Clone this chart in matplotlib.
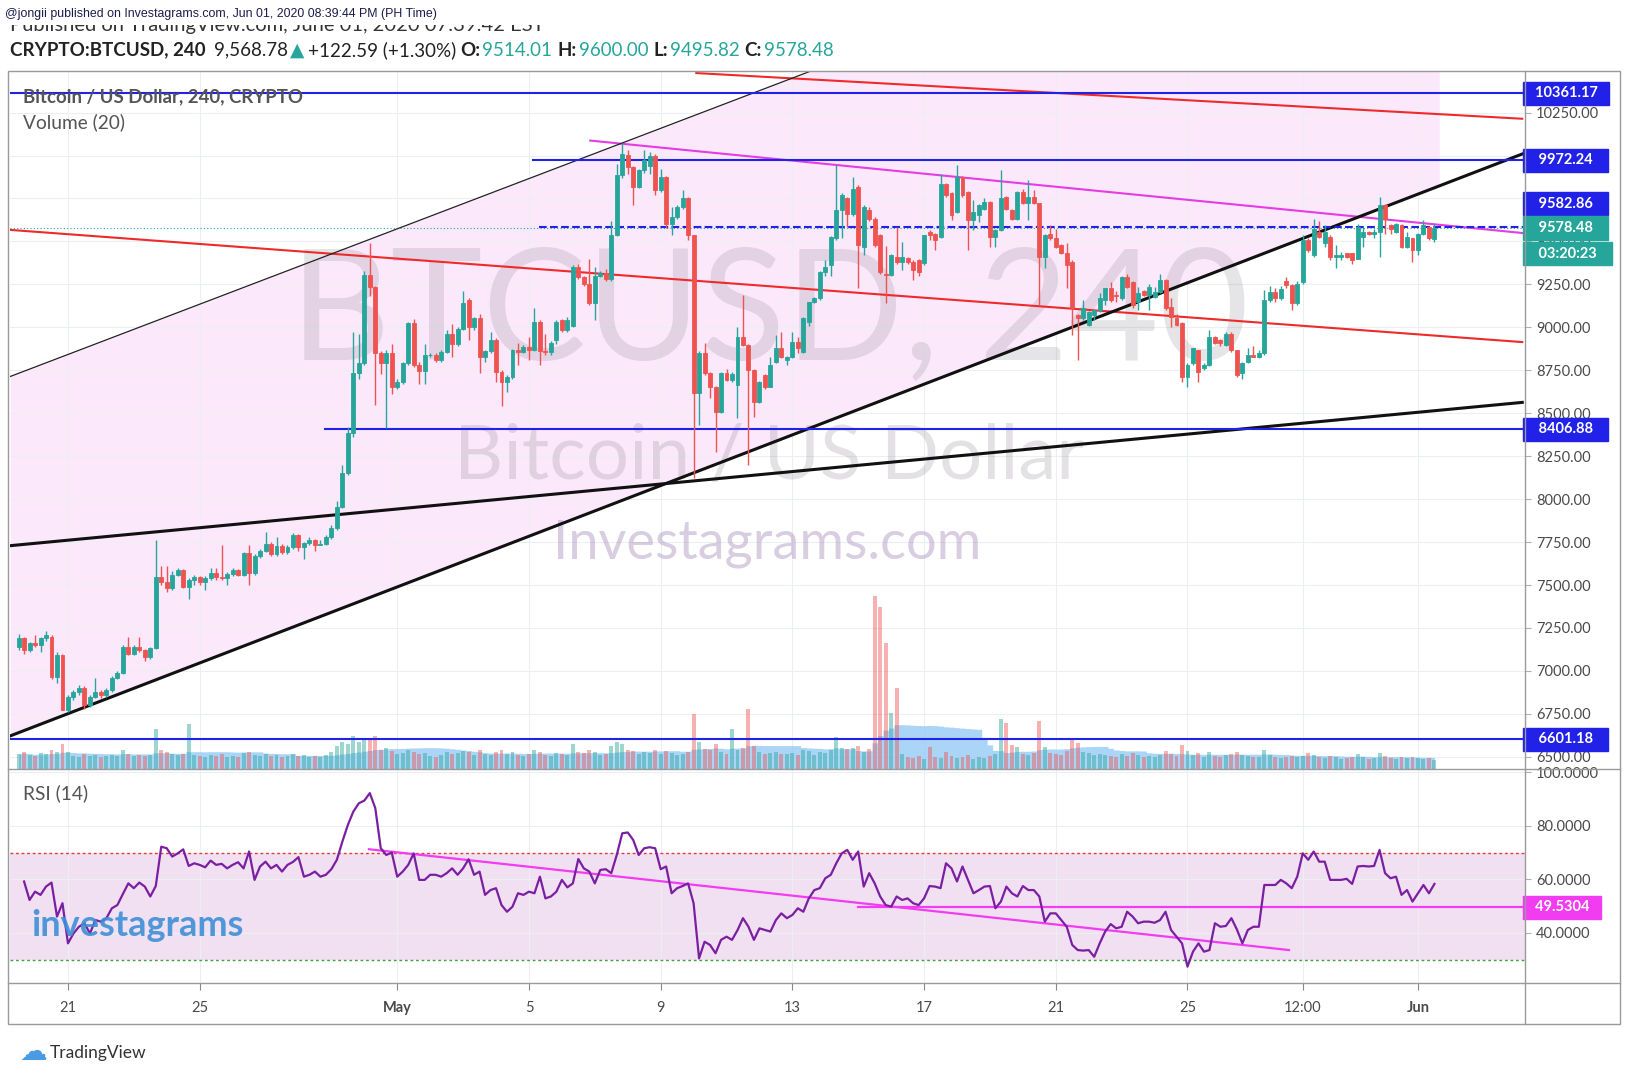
import matplotlib
matplotlib.use("Agg")
import matplotlib.pyplot as plt
import matplotlib.dates as mdates
from matplotlib.patches import Rectangle
from matplotlib.lines import Line2D
from matplotlib.ticker import FormatStrFormatter
import numpy as np
import pandas as pd

FONT = ["Lato", "DejaVu Sans"]
plt.rcParams["font.family"] = FONT

UP = "#26a69a"; DOWN = "#ef5350"; BLUE = "#2121e8"; RED = "#ee2a2a"
MAG = "#e33de3"; PINK = "#fce8fb"; GRID = "#eceef3"; TXT = "#4a4a4a"

# ---------- 4h candles, BTCUSD ----------
opens = [
    7140, 7190, 7120, 7160, 7150, 7190, 7200, 6965, 7090, 6775,
    6850, 6880, 6900, 6800, 6850, 6880, 6860, 6890, 6960, 6990,
    7140, 7100, 7140, 7120, 7080, 7135, 7548, 7520, 7480, 7560,
    7590, 7490, 7530, 7545, 7515, 7540, 7570, 7545, 7540, 7565,
    7590, 7560, 7685, 7570, 7670, 7700, 7740, 7680, 7725, 7690,
    7720, 7790, 7720, 7745, 7760, 7735, 7740, 7780, 7830, 7956,
    8150, 8383, 8732, 8790, 9304, 9236, 8848, 8790, 8850, 8654,
    8680, 8790, 9023, 8780, 8745, 8838, 8840, 8810, 8857, 8964,
    8900, 8993, 9158, 9000, 9052, 8828, 8860, 8925, 8741, 8680,
    8710, 8867, 8855, 8886, 8870, 9032, 8860, 8855, 8925, 9042,
    8984, 9010, 9352, 9294, 9255, 9139, 9300, 9314, 9284, 9536,
    9885, 10002, 9934, 9817, 9914, 9940, 10000, 9798, 9875, 9604,
    9643, 9701, 9750, 9536, 8615, 8848, 8732, 8654, 8508, 8732,
    8693, 8664, 8945, 8896, 8751, 8567, 8722, 8654, 8799, 8877,
    8809, 8828, 8916, 8857, 9032, 9148, 9168, 9323, 9362, 9517,
    9682, 9750, 9662, 9817, 9468, 9682, 9633, 9536, 9313, 9304,
    9410, 9381, 9401, 9381, 9391, 9372, 9556, 9546, 9527, 9837,
    9779, 9672, 9876, 9788, 9624, 9653, 9691, 9730, 9527, 9565,
    9759, 9682, 9633, 9788, 9721, 9759, 9721, 9410, 9546, 9517,
    9478, 9430, 9381, 9071, 9052, 9013, 9070, 9100, 9158, 9226,
    9187, 9170, 9294, 9265, 9148, 9210, 9190, 9177, 9206, 9274,
    9119, 9052, 9023, 8712, 8790, 8867, 8761, 8780, 8945, 8925,
    8896, 8964, 8867, 8732, 8799, 8838, 8828, 8848, 9158, 9206,
    9170, 9270, 9245, 9140, 9265, 9507, 9420, 9556, 9488, 9526,
    9410, 9410, 9430, 9430, 9400, 9526, 9556, 9546, 9556, 9711,
    9594, 9556, 9594, 9468, 9517, 9449, 9546, 9585, 9514.01]
highs = [
    7215, 7195, 7170, 7210, 7195, 7230, 7210, 7110, 7100, 6860,
    6890, 6920, 6910, 6860, 6960, 6890, 6900, 6970, 7000, 7150,
    7200, 7150, 7200, 7125, 7140, 7762, 7610, 7610, 7580, 7600,
    7595, 7540, 7560, 7550, 7550, 7600, 7600, 7733, 7575, 7600,
    7595, 7695, 7730, 7680, 7710, 7810, 7750, 7780, 7740, 7730,
    7800, 7795, 7750, 7780, 7770, 7760, 7790, 7850, 7990, 8200,
    8420, 8972, 8960, 9330, 9490, 9240, 8860, 8870, 8905, 8700,
    8800, 9030, 9050, 8800, 8905, 8850, 8850, 8870, 8985, 9020,
    9000, 9210, 9170, 9060, 9080, 8870, 8970, 8940, 8750, 8720,
    8875, 8910, 8895, 8945, 9110, 9040, 8960, 8920, 9040, 9050,
    9060, 9360, 9370, 9300, 9400, 9350, 9330, 9340, 9620, 9950,
    10070, 10030, 9940, 9920, 10030, 10020, 10010, 9920, 9880, 9700,
    9710, 9800, 9760, 9540, 8860, 8906, 8740, 8660, 8740, 8760,
    8740, 9003, 9187, 8900, 8760, 8690, 8730, 8828, 8953, 8973,
    8835, 8975, 8945, 9060, 9150, 9175, 9330, 9391, 9530, 9943,
    9780, 9760, 9876, 9830, 9710, 9700, 9640, 9545, 9474, 9425,
    9585, 9498, 9410, 9390, 9395, 9540, 9565, 9550, 9895, 9840,
    9785, 9943, 9880, 9795, 9740, 9720, 9750, 9735, 9570, 9914,
    9765, 9690, 9795, 9808, 9856, 9798, 9725, 9545, 9594, 9575,
    9485, 9488, 9390, 9080, 9158, 9095, 9100, 9197, 9226, 9265,
    9210, 9300, 9310, 9270, 9236, 9215, 9255, 9236, 9310, 9280,
    9170, 9080, 9030, 8790, 8880, 8870, 8790, 8984, 8950, 8930,
    8970, 8970, 8870, 8800, 8880, 8890, 8870, 9216, 9240, 9230,
    9240, 9290, 9250, 9270, 9536, 9520, 9633, 9620, 9594, 9540,
    9478, 9440, 9435, 9435, 9604, 9585, 9560, 9575, 9759, 9715,
    9600, 9610, 9600, 9556, 9520, 9550, 9623, 9590, 9600.00]
lows = [
    7120, 7100, 7110, 7140, 7110, 7175, 6950, 6930, 6770, 6760,
    6830, 6860, 6780, 6790, 6840, 6840, 6850, 6880, 6950, 6980,
    7090, 7090, 7110, 7060, 7070, 7130, 7500, 7460, 7470, 7550,
    7480, 7420, 7500, 7500, 7470, 7530, 7530, 7530, 7500, 7555,
    7550, 7550, 7500, 7560, 7660, 7690, 7670, 7670, 7680, 7680,
    7710, 7700, 7650, 7730, 7700, 7730, 7730, 7770, 7820, 7950,
    8140, 8360, 8700, 8780, 9180, 8548, 8730, 8412, 8610, 8640,
    8670, 8780, 8770, 8670, 8670, 8825, 8800, 8800, 8850, 8830,
    8890, 8985, 8925, 8985, 8732, 8800, 8850, 8680, 8540, 8625,
    8700, 8780, 8850, 8810, 8860, 8780, 8840, 8840, 8900, 8970,
    8970, 9000, 9280, 9240, 9130, 9040, 9290, 9270, 9270, 9530,
    9870, 9890, 9710, 9810, 9900, 9895, 9770, 9790, 9580, 9540,
    9630, 9690, 9510, 8121, 8430, 8720, 8590, 8276, 8500, 8690,
    8680, 8470, 8890, 8198, 8480, 8560, 8640, 8650, 8790, 8820,
    8780, 8820, 8850, 8850, 9010, 9140, 9160, 9300, 9300, 9510,
    9517, 9585, 9650, 9226, 9420, 9620, 9470, 9310, 9139, 9300,
    9370, 9333, 9370, 9275, 9300, 9365, 9507, 9449, 9520, 9760,
    9624, 9665, 9760, 9449, 9565, 9614, 9685, 9468, 9468, 9560,
    9685, 9625, 9625, 9715, 9624, 9715, 9129, 9343, 9510, 9460,
    9425, 9226, 8955, 8809, 9045, 9005, 9040, 9090, 9130, 9150,
    9148, 9160, 9230, 9110, 9100, 9185, 9100, 9170, 9200, 9100,
    9000, 9010, 8683, 8654, 8780, 8683, 8750, 8775, 8900, 8890,
    8890, 8858, 8712, 8700, 8795, 8825, 8820, 8840, 9150, 9150,
    9160, 9230, 9100, 9130, 9250, 9440, 9410, 9520, 9468, 9390,
    9343, 9391, 9405, 9370, 9395, 9468, 9540, 9517, 9410, 9546,
    9546, 9550, 9460, 9460, 9381, 9420, 9540, 9510, 9495.82]
closes = [
    7190, 7120, 7160, 7150, 7190, 7210, 6965, 7090, 6775, 6850,
    6880, 6900, 6800, 6850, 6880, 6860, 6890, 6960, 6990, 7140,
    7100, 7140, 7120, 7080, 7135, 7548, 7520, 7480, 7560, 7590,
    7490, 7530, 7545, 7515, 7540, 7570, 7545, 7540, 7565, 7590,
    7560, 7685, 7570, 7670, 7700, 7740, 7680, 7725, 7690, 7720,
    7790, 7720, 7745, 7760, 7735, 7740, 7780, 7830, 7956, 8150,
    8383, 8732, 8790, 9304, 9236, 8848, 8790, 8850, 8654, 8680,
    8790, 9023, 8780, 8745, 8838, 8840, 8810, 8857, 8964, 8900,
    8993, 9139, 9000, 9052, 8828, 8860, 8925, 8741, 8680, 8710,
    8867, 8855, 8886, 8870, 9032, 8860, 8855, 8910, 9032, 8984,
    9042, 9352, 9294, 9255, 9139, 9300, 9314, 9284, 9536, 9885,
    10011, 9934, 9817, 9914, 9973, 10000, 9798, 9875, 9604, 9643,
    9701, 9750, 9536, 8615, 8848, 8732, 8654, 8508, 8732, 8693,
    8730, 8945, 8896, 8751, 8567, 8683, 8654, 8780, 8877, 8828,
    8828, 8916, 8877, 9052, 9148, 9168, 9323, 9352, 9526, 9682,
    9769, 9662, 9808, 9478, 9701, 9633, 9478, 9323, 9304, 9420,
    9381, 9410, 9381, 9333, 9323, 9536, 9536, 9507, 9837, 9769,
    9653, 9876, 9769, 9624, 9672, 9711, 9730, 9527, 9565, 9750,
    9691, 9633, 9788, 9721, 9759, 9721, 9410, 9536, 9517, 9468,
    9430, 9362, 9110, 9052, 9110, 9090, 9100, 9168, 9226, 9158,
    9180, 9294, 9236, 9129, 9197, 9190, 9236, 9206, 9274, 9110,
    9061, 9013, 8712, 8780, 8877, 8741, 8780, 8945, 8906, 8906,
    8964, 8867, 8722, 8790, 8838, 8828, 8848, 9158, 9206, 9170,
    9225, 9245, 9140, 9250, 9507, 9449, 9575, 9526, 9556, 9410,
    9420, 9420, 9410, 9391, 9585, 9556, 9546, 9556, 9711, 9633,
    9575, 9604, 9468, 9526, 9449, 9546, 9594, 9517, 9578.48]
volumes = [
    15, 17, 14, 13, 16, 15, 19, 17, 25, 17,
    13, 12, 15, 13, 14, 12, 13, 14, 13, 19,
    15, 13, 14, 13, 14, 40, 19, 17, 15, 14,
    15, 45, 14, 13, 12, 14, 13, 15, 12, 13,
    12, 16, 17, 14, 13, 15, 13, 14, 12, 13,
    15, 13, 14, 12, 13, 12, 14, 17, 23, 27,
    25, 33, 27, 30, 29, 33, 19, 21, 18, 15,
    16, 19, 17, 15, 16, 13, 12, 14, 17, 15,
    16, 18, 17, 14, 19, 15, 14, 17, 19, 15,
    17, 14, 13, 15, 19, 17, 14, 13, 16, 15,
    14, 25, 17, 16, 19, 17, 14, 15, 23, 27,
    25, 19, 18, 15, 17, 16, 19, 15, 18, 16,
    14, 15, 17, 55, 27, 20, 19, 25, 17, 15,
    40, 19, 21, 60, 23, 17, 15, 16, 17, 15,
    15, 16, 14, 19, 18, 14, 17, 16, 19, 32,
    21, 20, 21, 23, 17, 20, 173, 162, 126, 56,
    81, 15, 12, 11, 13, 10, 22, 12, 11, 17,
    13, 11, 12, 14, 10, 12, 11, 13, 15, 50,
    46, 24, 22, 15, 14, 16, 48, 22, 16, 15,
    14, 18, 29, 26, 17, 16, 14, 15, 14, 13,
    12, 15, 13, 16, 14, 12, 13, 12, 14, 18,
    15, 13, 24, 18, 14, 16, 12, 17, 13, 12,
    14, 15, 17, 14, 13, 12, 12, 19, 14, 12,
    11, 12, 13, 12, 13, 16, 14, 12, 11, 13,
    12, 10, 11, 12, 15, 12, 10, 11, 16, 13,
    11, 10, 12, 11, 12, 11, 10, 11, 9]
rsi = [
    59.2, 52.3, 55.4, 54.2, 57.3, 58.8, 46.1, 51.1, 36.1, 39.8,
    42.3, 43.6, 39.8, 44.8, 44.2, 45.5, 49.2, 50.4, 54.5, 58.5,
    56.7, 58.8, 57.3, 53.6, 57.5, 72.2, 71.6, 68.5, 69.7, 71.2,
    65.0, 66.0, 65.4, 64.5, 67.0, 65.4, 65.8, 64.1, 65.4, 66.4,
    64.1, 70.4, 59.8, 64.8, 66.6, 64.1, 65.4, 62.9, 65.4, 66.5,
    68.3, 61.0, 61.7, 62.9, 61.0, 61.7, 63.8, 67.3, 74.1, 80.3,
    85.3, 88.4, 89.4, 92.2, 86.6, 71.6, 69.1, 70.0, 61.0, 62.9,
    65.4, 69.7, 59.8, 59.8, 61.7, 61.7, 61.0, 62.3, 64.1, 61.7,
    64.1, 67.5, 61.7, 62.9, 54.2, 56.0, 56.7, 50.4, 47.9, 49.8,
    54.8, 54.2, 55.4, 54.8, 61.0, 52.9, 53.6, 55.4, 59.8, 57.0,
    58.5, 67.6, 64.1, 62.9, 58.5, 63.5, 63.8, 62.3, 69.1, 77.2,
    77.5, 74.7, 69.1, 71.6, 72.0, 71.6, 63.8, 64.8, 54.8, 56.7,
    57.5, 58.5, 51.1, 30.5, 36.7, 35.5, 32.4, 37.4, 38.6, 37.4,
    41.0, 45.5, 42.3, 37.4, 41.7, 41.1,
    40.5, 44.8, 47.3, 45.5, 46.7, 49.2, 47.9, 52.9, 56.0, 56.7,
    60.4, 61.7, 66.0, 69.7, 71.0, 67.3, 70.4, 57.3, 62.3, 58.5,
    53.6, 50.4, 49.8, 53.6, 52.3, 52.9, 51.1, 50.4, 52.9, 57.5,
    57.3, 56.7, 66.0, 64.1, 59.2, 64.8, 59.8, 54.8, 56.0, 57.3,
    57.5, 49.2, 51.7, 57.3, 54.8, 53.6, 57.5, 56.0, 56.0, 53.6,
    44.2, 47.3, 47.3, 44.8, 42.3, 35.5, 33.6, 33.4, 33.6, 31.1,
    36.1, 40.5, 43.3, 41.7, 42.3, 47.9, 46.1, 43.6, 44.2, 44.2,
    43.8, 44.8, 47.9, 41.1, 38.6, 36.1, 27.4, 33.0, 36.1, 33.0,
    33.6, 43.6, 42.3, 42.6, 45.5, 41.3, 36.1, 41.1, 42.3, 42.3,
    57.9, 57.9, 57.9, 59.8, 58.5, 56.7, 61.0, 69.7, 67.3, 70.4,
    66.6, 66.6, 59.8, 59.8, 59.8, 60.2, 58.3, 64.8, 65.0, 64.8,
    65.0, 71.0, 62.3, 60.4, 61.0, 54.2, 56.0, 51.7, 54.8, 57.9,
    54.8, 58.3]

# drawn lines: (start time, start value, end time, end value)
red_lines = [("2020-05-10 02:00", 10480, "2020-06-04 04:00", 10214),
             ("2020-04-19 06:00", 9567, "2020-06-04 04:00", 8914)]
magenta_line = ("2020-05-06 20:40", 10087, "2020-06-04 04:00", 9549)
thin_black = ("2020-04-19 06:00", 8714, "2020-05-15 00:00", 10597)
thick_black = [("2020-04-19 06:00", 6622, "2020-06-04 04:00", 10009),
               ("2020-04-19 06:00", 7729, "2020-06-04 04:00", 8563)]
channel_t = ["2020-04-19 06:00", "2020-06-01 15:30"]
channel_top = [8714, 11887]
channel_bot = [6622, 9822]
# horizontal levels: (price, start time, style)
levels = [(10361.17, "2020-04-19 00:00", "-"), (9972.24, "2020-05-05 03:00", "-"),
          (9582.86, "2020-05-05 07:00", "--"), (8406.88, "2020-04-28 19:40", "-")]
support = 6601.18
last_price = 9578.48
rsi_trend = ("2020-04-30 03:20", 71.25, "2020-05-28 02:00", 33.6)
rsi_level = ("2020-05-14 23:30", 49.5304)

tick_dates = ["2020-04-21", "2020-04-25", "2020-05-01", "2020-05-05", "2020-05-09",
              "2020-05-13", "2020-05-17", "2020-05-21", "2020-05-25",
              "2020-05-28 12:00", "2020-06-01"]
tick_labels = ["21", "25", "May", "5", "9", "13", "17", "21", "25", "12:00", "Jun"]

def d(s):
    return mdates.date2num(pd.Timestamp(s).to_pydatetime())

times = pd.date_range(end="2020-06-01 12:00", periods=len(closes), freq="4h")
xs = mdates.date2num(times.to_pydatetime())
o = np.array(opens); h = np.array(highs); l = np.array(lows); c = np.array(closes)
cols = np.where(c >= o, UP, DOWN)

W, H = 1630, 1080
fig = plt.figure(figsize=(W / 100, H / 100), dpi=100)
fx = lambda px: px / W
fy = lambda py: 1 - py / H

ax = fig.add_axes([fx(10), fy(769), fx(1525) - fx(10), fy(71) - fy(769)])
axv = ax.twinx()
axr = fig.add_axes([fx(10), fy(983), fx(1525) - fx(10), fy(769) - fy(983)], sharex=ax)
XL = (d("2020-04-19 05:45"), d("2020-06-04 06:00"))
ax.set_xlim(*XL)
ax.set_ylim(6429, 10492)

# pink parallel channel
ax.fill_between([d(t) for t in channel_t], channel_bot, channel_top, color=PINK, lw=0, zorder=0)

ax.set_yticks(np.arange(6500, 10251, 250))
ax.yaxis.set_major_formatter(FormatStrFormatter("%.2f"))
ax.yaxis.tick_right()
ax.tick_params(axis="y", which="both", left=False, labelleft=False, right=True, labelright=True,
               length=4, color="#b0b0b0", labelsize=10.5, labelcolor=TXT, pad=4)
ax.tick_params(axis="x", length=0, labelbottom=False)
ax.grid(True, color=GRID, lw=0.8)
ax.set_axisbelow(True)
for s in ax.spines.values():
    s.set_visible(False)

# watermarks
ax.text(fx(769), fy(316), "BTCUSD, 240", transform=fig.transFigure, ha="center", va="center",
        fontsize=112, color="#8a8590", alpha=0.22, zorder=0.8)
ax.text(fx(769), fy(457), "Bitcoin / US Dollar", transform=fig.transFigure, ha="center",
        va="center", fontsize=55, color="#8a8590", alpha=0.24, zorder=0.8)
ax.text(fx(767), fy(544), "Investagrams.com", transform=fig.transFigure, ha="center",
        va="center", fontsize=39, color="#b49cc4", alpha=0.5, zorder=0.8)

# drawings
for a, pa, b, pb in red_lines:
    ax.plot([d(a), d(b)], [pa, pb], color=RED, lw=1.5, zorder=2)
a, pa, b, pb = magenta_line
ax.plot([d(a), d(b)], [pa, pb], color=MAG, lw=1.5, zorder=2)
a, pa, b, pb = thin_black
ax.plot([d(a), d(b)], [pa, pb], color="#222222", lw=0.9, zorder=2)
for a, pa, b, pb in thick_black:
    ax.plot([d(a), d(b)], [pa, pb], color="#111111", lw=2.2, zorder=2)
ax.axhline(last_price, color=UP, ls=(0, (1, 2)), lw=0.8, zorder=1.5)
for p, start, ls in levels:
    ax.plot([d(start), XL[1]], [p, p], color=BLUE, lw=1.5, ls=ls, zorder=2.5)

# candles
w = 4 / 24 * 0.72
ax.vlines(xs, l, h, colors=cols, lw=1, zorder=4)
ax.bar(xs, c - o, bottom=o, width=w, color=cols, edgecolor=cols, lw=0.6, zorder=5)

# volume overlay
axv.set_ylim(0, max(volumes) * 4.03)
vma = pd.Series(volumes).rolling(20, min_periods=1).mean()
axv.fill_between(xs, 0, vma, color="#8fc8f5", alpha=0.75, lw=0, step="mid", zorder=1)
axv.bar(xs, volumes, width=w, color=cols, alpha=0.45, lw=0, zorder=2)
axv.plot(XL, [support, support], color=BLUE, lw=1.5, transform=ax.transData, zorder=3)
axv.set_axis_off()

# price-axis tags
def tag(axis, y, text, fc, dy=0):
    axis.annotate(text, xy=(1, y), xycoords=("axes fraction", "data"),
                  xytext=(2, dy), textcoords="offset points", ha="left", va="center",
                  color="white", fontsize=10.5, fontweight="bold", annotation_clip=False,
                  bbox=dict(boxstyle="square,pad=0.32", fc=fc, ec=fc), zorder=10)

tag(ax, 10361.17, "  10361.17  ", BLUE)
tag(ax, 9972.24, "   9972.24   ", BLUE)
tag(ax, 9582.86, "   9582.86   ", BLUE, dy=17)
tag(ax, 9578.48, "   9578.48   ", UP)
tag(ax, 9578.48, "   03:20:23   ", UP, dy=-18.5)
tag(ax, 8406.88, "   8406.88   ", BLUE)
tag(ax, support, "   6601.18   ", BLUE)

ax.text(fx(23), fy(97), "Bitcoin / US Dollar, 240, CRYPTO", transform=fig.transFigure,
        fontsize=13.4, fontweight="bold", color="#555555", va="center", zorder=9)
ax.text(fx(23), fy(122), "Volume (20)", transform=fig.transFigure, fontsize=13.8,
        color="#555555", va="center", zorder=9)

# RSI panel
axr.axhspan(30, 70, color="#f1e0f1", lw=0, zorder=0)
axr.axhline(70, color="#e53935", ls=(0, (2, 2)), lw=1, zorder=1)
axr.axhline(30, color="#43a047", ls=(0, (2, 2)), lw=1, zorder=1)
a, pa, b, pb = rsi_trend
axr.plot([d(a), d(b)], [pa, pb], color="#f13cf1", lw=1.6, zorder=3)
axr.plot([d(rsi_level[0]), XL[1]], [rsi_level[1]] * 2, color="#f13cf1", lw=1.6, zorder=3)
axr.plot(xs[-len(rsi):], rsi, color="#7b1fa2", lw=1.6, zorder=4)
axr.set_ylim(21.3, 101.2)
axr.set_yticks([40, 60, 80, 100])
axr.yaxis.set_major_formatter(FormatStrFormatter("%.4f"))
axr.yaxis.tick_right()
axr.tick_params(axis="y", length=4, color="#b0b0b0", labelsize=10.5, labelcolor=TXT, pad=4)
axr.set_xticks([d(t) for t in tick_dates])
axr.set_xticklabels(tick_labels)
axr.tick_params(axis="x", length=5, color="#888888", labelsize=10.5, labelcolor=TXT, pad=8)
for lab in axr.get_xticklabels():
    if lab.get_text() in ("May", "Jun"):
        lab.set_fontweight("bold")
axr.grid(True, color=GRID, lw=0.8)
axr.set_axisbelow(True)
for s in axr.spines.values():
    s.set_visible(False)
tag(axr, rsi_level[1], "  49.5304  ", "#f13cf1")
axr.text(fx(23), fy(793), "RSI (14)", transform=fig.transFigure, fontsize=13.8,
         color="#555555", va="center", zorder=9)
fig.text(fx(31), fy(925), "investagrams", fontsize=26, fontweight="bold",
         color="#3d8fd6", va="center", alpha=0.9)

# frame and separators
fr = dict(transform=fig.transFigure, color="#9a9a9a", lw=1)
fig.add_artist(Rectangle((fx(8), fy(1024)), fx(1620) - fx(8), fy(71) - fy(1024),
                         transform=fig.transFigure, fill=False, ec="#9a9a9a", lw=1))
fig.add_artist(Line2D([fx(1525)] * 2, [fy(1024), fy(71)], **fr))
fig.add_artist(Line2D([fx(8), fx(1620)], [fy(769)] * 2, **fr))
fig.add_artist(Line2D([fx(8), fx(1620)], [fy(983)] * 2, **fr))

# header: second line is half hidden under the first one
fig.text(fx(10), fy(31), "Published on TradingView.com, June 01, 2020 07:39:42 EST",
         fontsize=14.5, color="#333333", va="baseline", zorder=1)
fig.add_artist(Rectangle((0, fy(25)), 1, fy(0) - fy(25), transform=fig.transFigure,
                         fc="white", ec="none", zorder=2))
fig.text(fx(5), fy(14), "@jongii published on Investagrams.com, Jun 01, 2020 08:39:44 PM (PH Time)",
         fontsize=8.9, color="#1c1c4c", va="center", zorder=3,
         family=["Liberation Sans", "DejaVu Sans"])

r = fig.canvas.get_renderer()
parts = [("CRYPTO:BTCUSD, 240", "#222222", "bold", 8), ("9,568.78", "#222222", "normal", 2),
         ("\u25b2", UP, "normal", 4), ("+122.59 (+1.30%)", "#222222", "normal", 4),
         ("O:", "#222222", "bold", 2), ("9514.01", UP, "normal", 5),
         ("H:", "#222222", "bold", 2), ("9600.00", UP, "normal", 5),
         ("L:", "#222222", "bold", 2), ("9495.82", UP, "normal", 5),
         ("C:", "#222222", "bold", 2), ("9578.48", UP, "normal", 0)]
x = fx(10)
for s, col, wt, gap in parts:
    t = fig.text(x, fy(50), s, color=col, fontsize=13.5, fontweight=wt, va="center",
                 family=["Lato", "DejaVu Sans"])
    x += (t.get_window_extent(renderer=r).width + gap) / W

# TradingView logo
fig.text(fx(20), fy(1052), "\u2601", fontsize=20, color="#4a9be0", va="center",
         family=["DejaVu Sans"])
fig.text(fx(50), fy(1053), "TradingView", fontsize=12.5, color="#333333", va="center")

fig.savefig("out.png", dpi=100, facecolor="white")
